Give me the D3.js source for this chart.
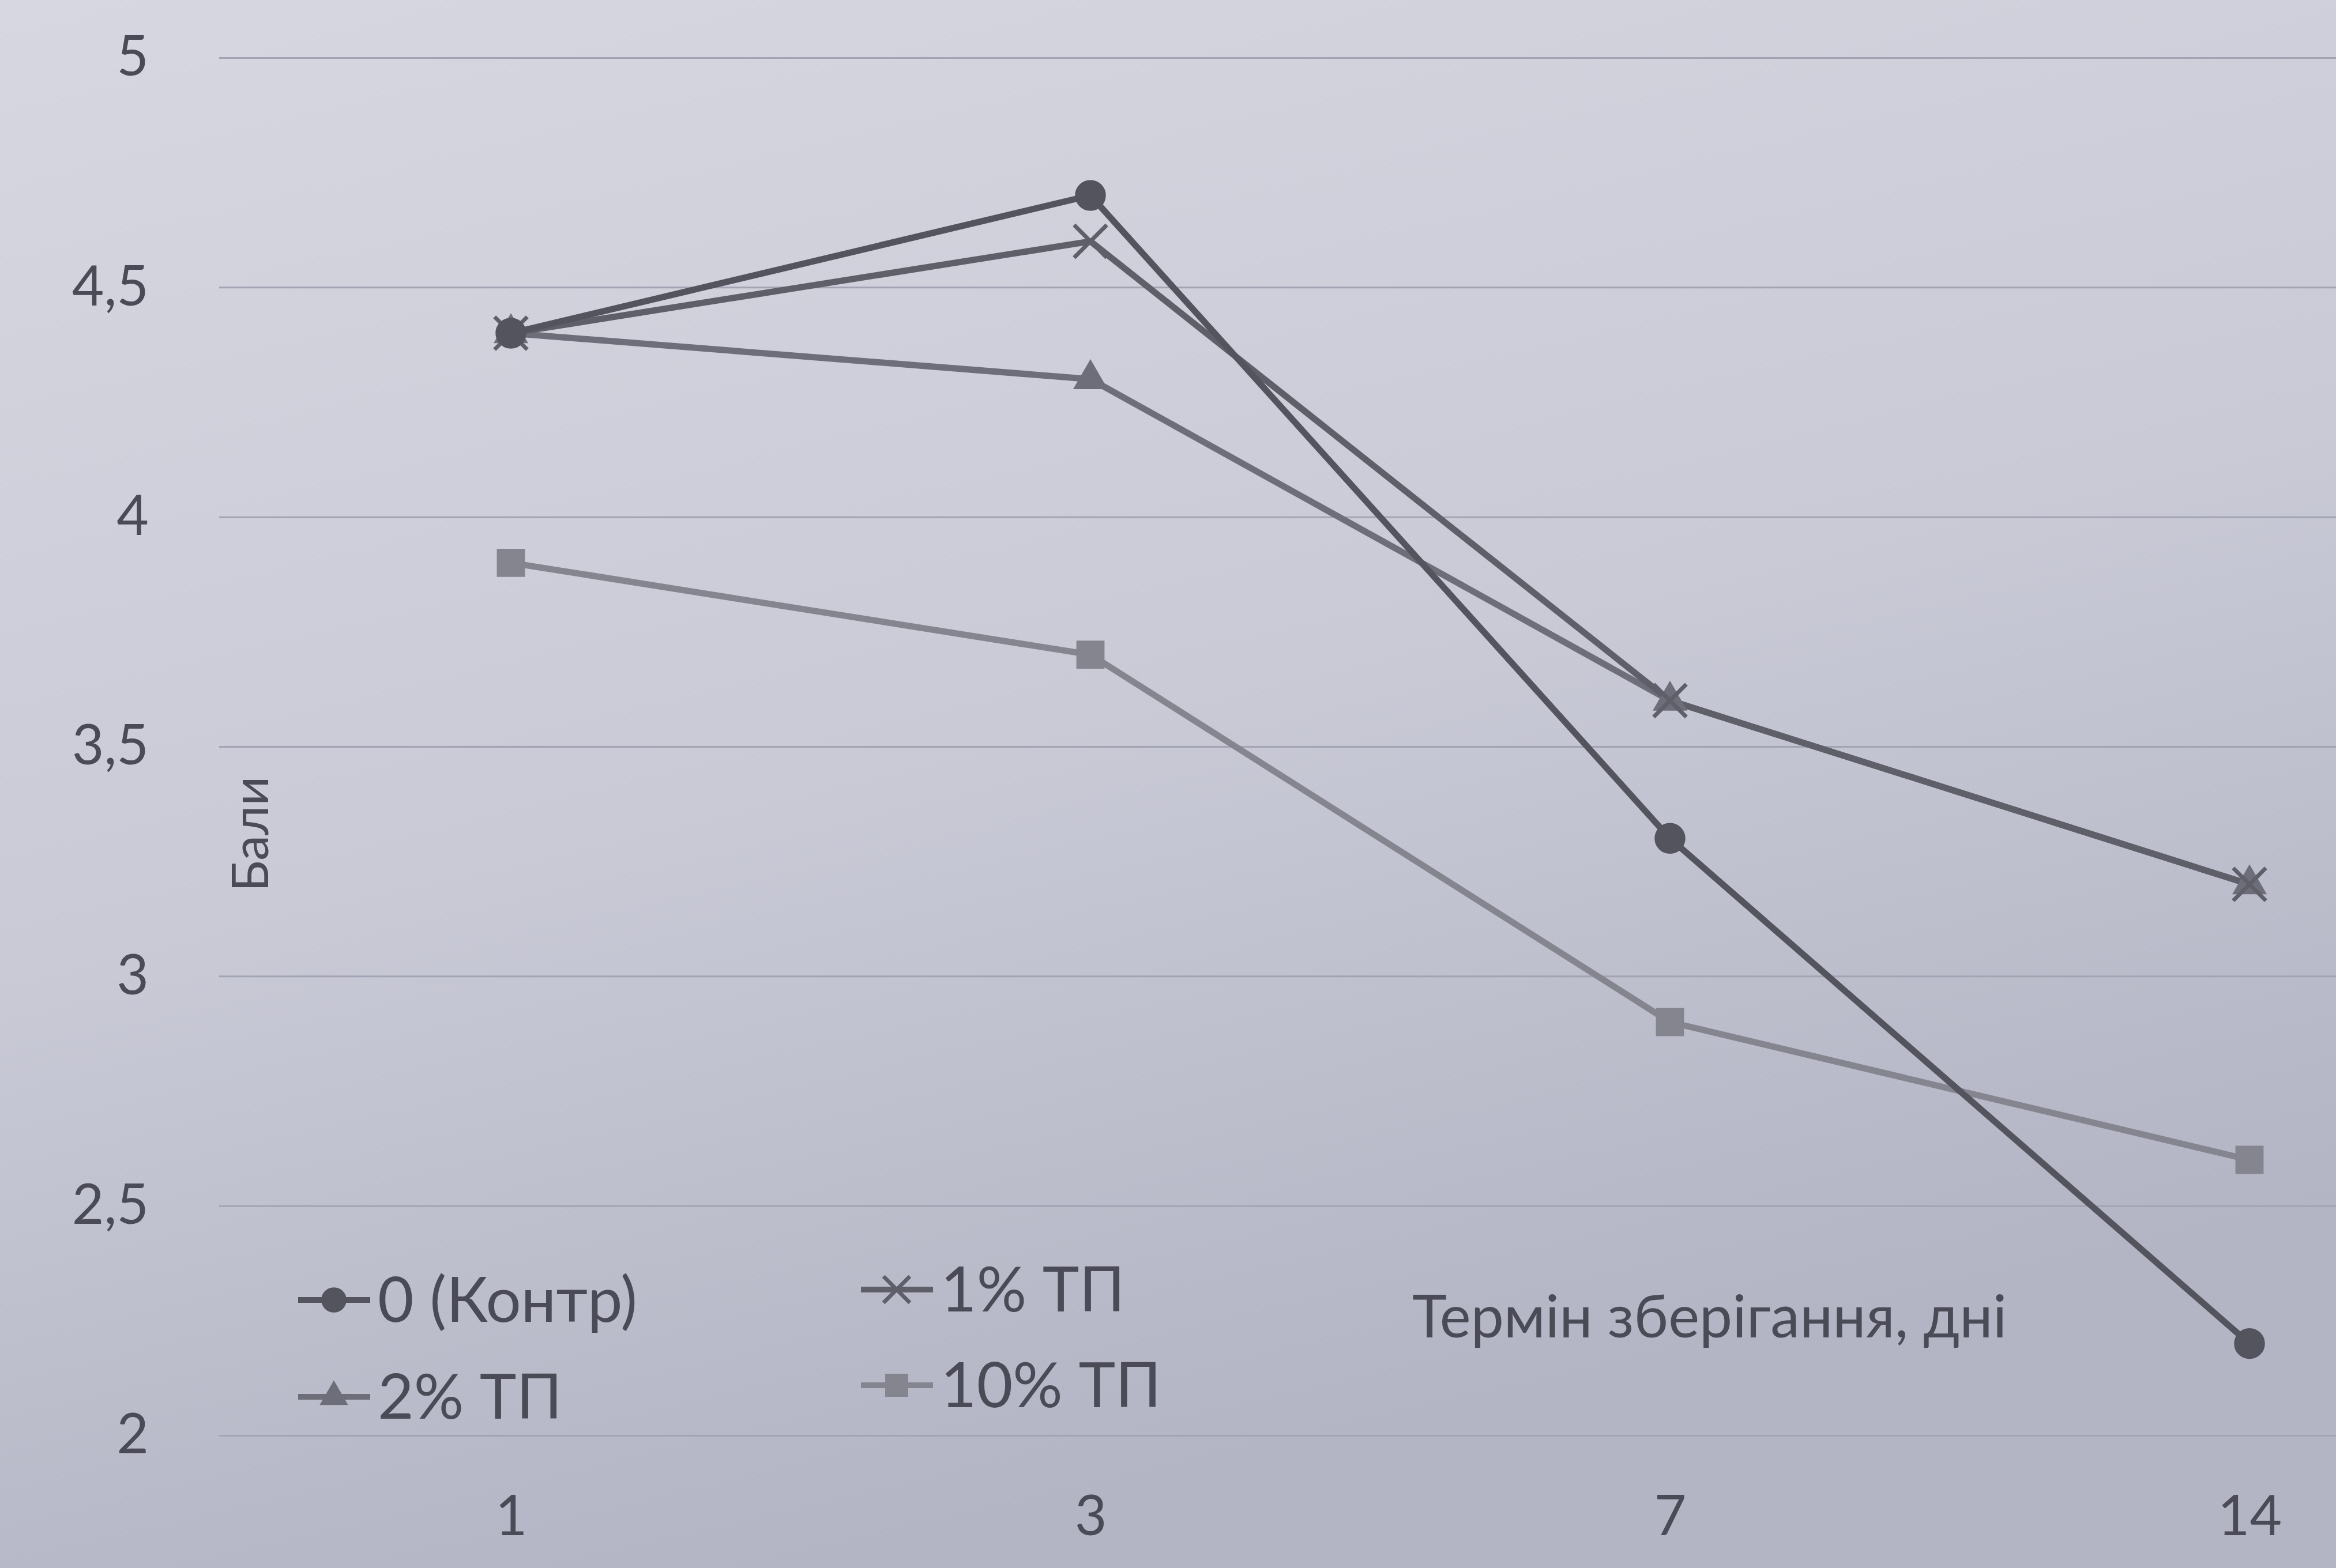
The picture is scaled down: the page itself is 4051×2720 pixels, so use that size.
<!DOCTYPE html>
<html>
<head>
<meta charset="utf-8">
<script src="https://cdn.jsdelivr.net/npm/d3@7"></script>
<style>
  html, body { margin: 0; padding: 0; background: #cfd0da; }
  svg { display: block; }
</style>
</head>
<body>
<svg id="chart" width="4051" height="2720"></svg>
<script>
// Storage time, days (category axis)
const days = ["1", "3", "7", "14"];

// Sensory score (бали) for each sample
const control = [4.4, 4.7, 3.3, 2.2];   // 0 (Контр)
const tp1     = [4.4, 4.6, 3.6, 3.2];   // 1% ТП
const tp2     = [4.4, 4.3, 3.6, 3.2];   // 2% ТП
const tp10    = [3.9, 3.7, 2.9, 2.6];   // 10% ТП

const seriesNames = ["0 (Контр)", "1% ТП", "2% ТП", "10% ТП"];
const yTicks = [2, 2.5, 3, 3.5, 4, 4.5, 5];

const xTitle = "Термін зберігання, дні";
const yTitle = "Бали";

const W = 4051, H = 2720;
const svg = d3.select("#chart");

// paper-like background shading
const defs = svg.append("defs");
const grad = defs.append("linearGradient").attr("id", "paper")
  .attr("x1", "0").attr("y1", "0").attr("x2", "0.35").attr("y2", "1");
grad.append("stop").attr("offset", "0").attr("stop-color", "#d6d7e0");
grad.append("stop").attr("offset", "0.55").attr("stop-color", "#c9cad6");
grad.append("stop").attr("offset", "1").attr("stop-color", "#b3b4c4");
svg.append("rect").attr("width", W).attr("height", H).attr("fill", "url(#paper)");

const x = d3.scalePoint().domain(days).range([886, 3901]);
const y = d3.scaleLinear().domain([2, 5]).range([2490, 100]);

const gridStart = 380;
const fontFam = "Lato, 'Open Sans', 'Noto Sans', sans-serif";

// value axis with horizontal gridlines
const yAxis = d3.axisLeft(y)
  .tickValues(yTicks)
  .tickSize(-(W - gridStart))
  .tickPadding(122)
  .tickFormat(d => String(d).replace(".", ","));

const gy = svg.append("g")
  .attr("transform", `translate(${gridStart},0)`)
  .call(yAxis);
gy.select(".domain").remove();
gy.selectAll(".tick line")
  .attr("stroke", "#a3a4b3")
  .attr("stroke-width", 3);
gy.selectAll(".tick text")
  .attr("fill", "#4a4b57")
  .style("font-family", fontFam)
  .style("font-size", "96px");

// category axis labels
const xAxis = d3.axisBottom(x).tickSize(0).tickPadding(105);
const gx = svg.append("g")
  .attr("transform", `translate(0,${y(2)})`)
  .call(xAxis);
gx.select(".domain").remove();
gx.selectAll(".tick text")
  .attr("fill", "#4a4b57")
  .style("font-family", fontFam)
  .style("font-size", "96px");

// series definitions
const series = [
  { name: seriesNames[0], values: control, color: "#54545f", symbol: d3.symbolCircle,   size: 2000, fill: true },
  { name: seriesNames[1], values: tp1,     color: "#5f5f6a", symbol: d3.symbolTimes,    size: 2100, fill: false },
  { name: seriesNames[2], values: tp2,     color: "#6e6e7a", symbol: d3.symbolTriangle, size: 1300, fill: true },
  { name: seriesNames[3], values: tp10,    color: "#85858f", symbol: d3.symbolSquare,   size: 2100, fill: true }
];

const line = d3.line()
  .x((d, i) => x(days[i]))
  .y(d => y(d));

// draw lines bottom to top so the control line sits above
const order = [3, 2, 1, 0];
order.forEach(k => {
  const s = series[k];
  svg.append("path")
    .datum(s.values)
    .attr("fill", "none")
    .attr("stroke", s.color)
    .attr("stroke-width", 11)
    .attr("stroke-linejoin", "round")
    .attr("d", line);
});

function drawMarker(g, s, cx, cy) {
  const p = d3.symbol().type(s.symbol).size(s.size)();
  g.append("path")
    .attr("d", p)
    .attr("transform", `translate(${cx},${cy})`)
    .attr("fill", s.fill ? s.color : "none")
    .attr("stroke", s.color)
    .attr("stroke-width", s.fill ? 3 : 7);
}

order.forEach(k => {
  const s = series[k];
  const g = svg.append("g");
  s.values.forEach((v, i) => drawMarker(g, s, x(days[i]), y(v)));
});

// legend (two columns, two rows)
const legendPos = [
  { lx: 517, ly: 2255 },
  { lx: 1493, ly: 2237 },
  { lx: 517, ly: 2423 },
  { lx: 1493, ly: 2403 }
];
series.forEach((s, k) => {
  const p = legendPos[k];
  const g = svg.append("g");
  g.append("line")
    .attr("x1", p.lx).attr("x2", p.lx + 125)
    .attr("y1", p.ly).attr("y2", p.ly)
    .attr("stroke", s.color).attr("stroke-width", 10);
  const ms = Object.assign({}, s, { size: s.size * 0.65 });
  drawMarker(g, ms, p.lx + 62, p.ly);
  g.append("text")
    .attr("x", p.lx + 138)
    .attr("y", p.ly + 38)
    .attr("fill", "#4a4b57")
    .style("font-family", fontFam)
    .style("font-size", "108px")
    .text(s.name);
});

// axis titles
svg.append("text")
  .attr("x", 2449).attr("y", 2320)
  .attr("fill", "#4a4b57")
  .style("font-family", fontFam)
  .style("font-size", "102px")
  .text(xTitle);

svg.append("text")
  .attr("transform", "translate(465,1447) rotate(-90)")
  .attr("text-anchor", "middle")
  .attr("fill", "#4a4b57")
  .style("font-family", fontFam)
  .style("font-size", "88px")
  .text(yTitle);
</script>
</body>
</html>
